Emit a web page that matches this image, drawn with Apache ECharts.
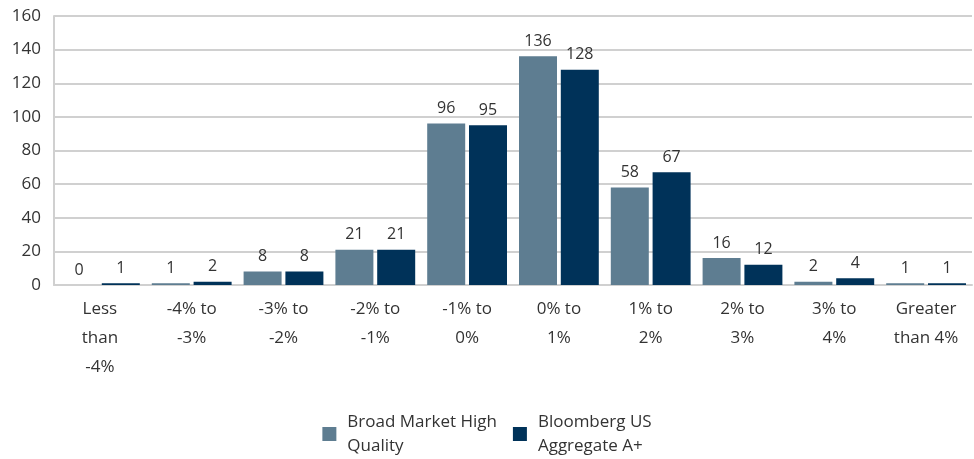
<!DOCTYPE html>
<html><head><meta charset="utf-8">
<script src="https://cdn.jsdelivr.net/npm/echarts@6/dist/echarts.min.js"></script>
<style>html,body{margin:0;padding:0;background:#fff}#c{width:974px;height:459px}</style>
</head><body><div id="c"></div>
<script>
const categories = ["Less\nthan\n-4%", "-4% to\n-3%", "-3% to\n-2%", "-2% to\n-1%", "-1% to\n0%", "0% to\n1%", "1% to\n2%", "2% to\n3%", "3% to\n4%", "Greater\nthan 4%"];
const broadMarket = [0, 1, 8, 21, 96, 136, 58, 16, 2, 1];
const bloombergAgg = [1, 2, 8, 21, 95, 128, 67, 12, 4, 1];
const seriesNames = ["Broad Market High\nQuality", "Bloomberg US\nAggregate A+"];
const yTicks = {min: 0, max: 160, interval: 20};

const FONT = "Open Sans";
const chart = echarts.init(document.getElementById('c'));
const labelStyle = {show: true, position: 'top', distance: 7, color: '#333', fontSize: 16, fontFamily: FONT};
chart.setOption({
  animation: false,
  textStyle: {fontFamily: FONT},
  grid: {left: 54, right: 2, top: 16, bottom: 174, containLabel: false},
  xAxis: {
    type: 'category', data: categories,
    axisLine: {show: true, lineStyle: {color: '#d0d0d0', width: 2}},
    axisTick: {show: false},
    axisLabel: {color: '#333', fontSize: 17, fontFamily: FONT, lineHeight: 29, margin: 10, interval: 0}
  },
  yAxis: {
    type: 'value', min: yTicks.min, max: yTicks.max, interval: yTicks.interval,
    axisLine: {show: true, lineStyle: {color: '#d0d0d0', width: 2}},
    axisTick: {show: false},
    axisLabel: {color: '#333', fontSize: 17, fontFamily: FONT, margin: 13},
    splitLine: {lineStyle: {color: '#d0d0d0', width: 2}}
  },
  legend: {
    top: 405, left: 'center', itemWidth: 14, itemHeight: 14, itemGap: 16,
    icon: 'rect',
    textStyle: {color: '#333', fontSize: 17, fontFamily: FONT, lineHeight: 24, padding: [0, 0, 0, 6]},
    data: seriesNames
  },
  series: [
    {name: seriesNames[0], type: 'bar', data: broadMarket, barWidth: 38, barGap: '10%',
     itemStyle: {color: '#5e7d91'}, label: labelStyle},
    {name: seriesNames[1], type: 'bar', data: bloombergAgg, barWidth: 38,
     itemStyle: {color: '#003259'}, label: labelStyle}
  ]
});
</script></body></html>
